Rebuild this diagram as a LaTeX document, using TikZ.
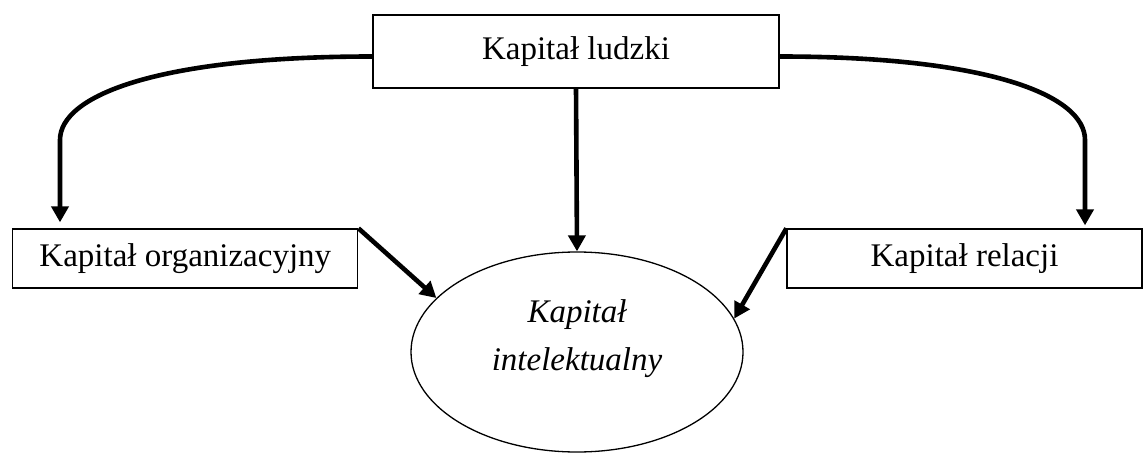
\documentclass[tikz,border=0pt]{standalone}
\usepackage{fontspec}
\setmainfont{Liberation Serif}
\usetikzlibrary{shapes.geometric,arrows.meta}

\begin{document}
\begin{tikzpicture}[x=0.5pt,y=-0.5pt,
  every node/.style={font=\fontsize{16.5}{20}\selectfont},
  kbox/.style={draw,line width=0.65pt,inner sep=0pt,minimum height=29.5pt},
  kellipse/.style={draw,ellipse,line width=0.65pt,inner sep=0pt,minimum width=166pt,minimum height=100pt},
  flow/.style={line width=2.3pt,-{Triangle[length=8pt,width=8.5pt]}}]

  \useasboundingbox (0,0) rectangle (1143,454);

%% kapital ludzki
  \node [kbox,minimum width=203pt,minimum height=36.5pt] (ludzki) at (576,51.5) {Kapitał ludzki};

%% pozostale kapitaly
  \node [kbox,minimum width=172.5pt] (organiz) at (185.3,258.5) {Kapitał organizacyjny};
  \node [kbox,minimum width=177.5pt] (relacji) at (964.5,258.5) {Kapitał relacji};

%% kapital intelektualny
  \node [kellipse] (intel) at (577,352) {};
  \node [font=\fontsize{16.5}{24}\selectfont\itshape,align=center] (intelTxt) at (577,339)
    {Kapitał\\intelektualny};

  \coordinate (bendL) at (60,140);
  \coordinate (bendR) at (1085,140);

%% polaczenia
  \draw [flow] ([yshift=-2.5pt]ludzki.west) .. controls +(-213,0) and +(0,-45) .. (bendL)
    -- ([yshift=3pt]bendL |- organiz.north);
  \draw [flow] ([yshift=-2.5pt]ludzki.east) .. controls +(208,0) and +(0,-45) .. (bendR)
    -- ([yshift=1.5pt]bendR |- relacji.north);
  \draw [flow] (ludzki.south) -- (intel.north);
  \draw [flow] (organiz.north east) -- (intel.159);
  \draw [flow] (relacji.north west) -- (intel.12);

\end{tikzpicture}
\end{document}
